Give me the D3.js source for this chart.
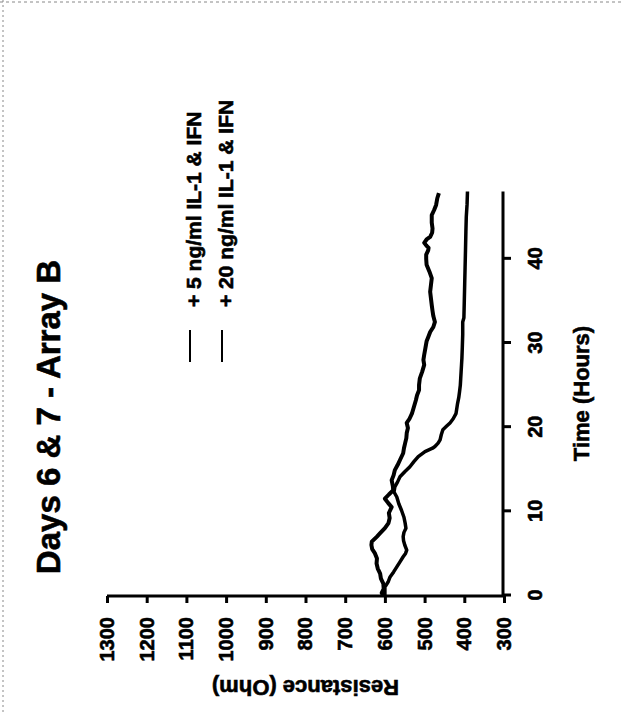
<!DOCTYPE html>
<html>
<head>
<meta charset="utf-8">
<script src="https://cdn.jsdelivr.net/npm/d3@7"></script>
<style>
  html, body { margin: 0; padding: 0; background: #fff; }
  svg { display: block; }
  text { font-family: "Liberation Sans", Arial, Helvetica, sans-serif; font-weight: bold; fill: #000; stroke: #000; stroke-width: 0.6px; }
</style>
</head>
<body>
<svg id="chart" width="621" height="713"></svg>
<script>
// ---- Data ----
const titleText = "Days 6 & 7 - Array B";
const xTitle = "Time (Hours)";
const yTitle = "Resistance (Ohm)";
const seriesNames = ["+ 5 ng/ml IL-1 & IFN", "+ 20 ng/ml IL-1 & IFN"];
const timeTicks = [0, 10, 20, 30, 40];
const resistanceTicks = [300, 400, 500, 600, 700, 800, 900, 1000, 1100, 1200, 1300];

const time5 = [0.0,0.3,0.8,1.4,2.0,2.6,3.2,3.8,4.4,5.0,5.5,6.0,6.4,7.0,7.4,8.0,8.6,9.2,9.8,10.5,11.0,11.5,12.0,12.5,13.0,13.7,14.3,14.9,15.5,16.1,16.9,17.5,18.1,18.7,19.3,19.9,20.5,21.0,21.6,22.4,23.2,23.8,24.4,25.0,25.8,26.6,27.4,28.0,28.6,29.4,30.2,30.8,31.3,31.9,32.5,33.2,33.8,34.5,35.3,36.1,36.9,37.7,38.5,39.3,40.0,40.5,41.0,41.3,41.6,41.9,42.3,42.6,43.1,43.6,44.3,45.2,45.8,46.4,47.2,47.8];
const res5  = [605,608,603,604,610,612,618,621,620,625,632,634,633,620,612,600,591,588,590,583,592,600,590,579,580,583,578,575,568,562,554,552,549,546,545,542,545,538,532,527,522,519,514,514,512,506,501,503,501,498,495,490,486,478,474,478,480,482,484,486,484,482,488,495,496,496,491,490,496,501,495,486,481,480,482,482,476,471,468,464];

const time20 = [0.0,0.3,1.0,1.6,2.2,2.8,3.4,4.0,4.6,5.0,5.4,6.0,6.5,7.0,7.5,8.0,8.6,9.3,10.1,10.9,11.7,12.3,12.9,13.5,14.1,14.7,15.3,15.9,16.5,17.1,17.5,17.7,18.1,18.5,19.1,19.7,20.1,20.5,21.0,21.6,22.2,22.8,23.5,24.2,25.0,25.8,26.6,27.4,28.2,29.5,31.0,32.5,33.0,35.0,37.0,39.0,41.0,43.2,45.0,46.5,48.0];
const res20  = [600,600,600,592,587,578,570,562,554,548,545,550,553,554,552,547,549,552,558,565,570,577,575,568,562,550,537,527,516,499,480,474,466,461,458,454,445,436,428,421,419,417,414,412,410,409,408,407,406,405,404,404,401,400,399,398,397,396,395,393,392];

// ---- Drawing ----
const svg = d3.select("#chart");

// scan page edge artefacts
svg.append("line").attr("x1", 3).attr("x2", 3).attr("y1", 0).attr("y2", 713)
  .attr("stroke", "#888").attr("stroke-width", 1).attr("stroke-dasharray", "2,3");
svg.append("line").attr("x1", 0).attr("x2", 621).attr("y1", 2).attr("y2", 2)
  .attr("stroke", "#888").attr("stroke-width", 1).attr("stroke-dasharray", "3,3");

// the chart is printed rotated by -90 degrees
const g = svg.append("g").attr("transform", `translate(0,${713}) rotate(-90)`);

const x = d3.scaleLinear().domain([0, 48]).range([117.5, 521.5]);
const y = d3.scaleLinear().domain([300, 1300]).range([504, 107]);

// Axes
const xAxis = d3.axisBottom(x).tickValues(timeTicks).tickFormat(d3.format("d"))
  .tickSize(8).tickSizeOuter(0).tickPadding(17);
const yAxis = d3.axisLeft(y).tickValues(resistanceTicks).tickFormat(d3.format("d"))
  .tickSize(7).tickSizeOuter(0).tickPadding(14);

const gx = g.append("g").attr("transform", "translate(0,503)").call(xAxis);
const gy = g.append("g").attr("transform", "translate(117,0)").call(yAxis);

[gx, gy].forEach(a => {
  a.select(".domain").attr("stroke", "#000").attr("stroke-width", 3);
  a.selectAll(".tick line").attr("stroke", "#000").attr("stroke-width", 3);
  a.selectAll(".tick text").style("font-size", "20px").style("font-weight", "bold")
    .style("font-family", '"Liberation Sans", Arial, sans-serif').attr("fill", "#000");
});
// extend the resistance axis down to meet the time axis
gy.select(".domain").attr("d", `M0,${y(1300)}V${505}`);
gx.select(".domain").attr("d", `M${x(0) - 1.5},0H${x(48)}`);

// Lines
const line = d3.line().x(d => x(d[0])).y(d => y(d[1]));
const data5 = time5.map((t, i) => [t, res5[i]]);
const data20 = time20.map((t, i) => [t, res20[i]]);

g.append("path").datum(data5).attr("d", line).attr("fill", "none")
  .attr("stroke", "#000").attr("stroke-width", 4).attr("stroke-linejoin", "round");
g.append("path").datum(data20).attr("d", line).attr("fill", "none")
  .attr("stroke", "#000").attr("stroke-width", 3.5).attr("stroke-linejoin", "round");

// Titles
g.append("text").attr("x", 296).attr("y", 60).attr("text-anchor", "middle")
  .style("font-size", "33px").text(titleText);

g.append("text").attr("x", x(24)).attr("y", 589).attr("text-anchor", "middle")
  .style("font-size", "22px").text(xTitle);

g.append("text").attr("transform", `translate(33,${y(800)}) rotate(-90)`)
  .attr("text-anchor", "middle").style("font-size", "22px").text(yTitle);

// Legend
const legendV = [190, 222];
seriesNames.forEach((name, i) => {
  g.append("line").attr("x1", 351).attr("x2", 383).attr("y1", legendV[i]).attr("y2", legendV[i])
    .attr("stroke", "#000").attr("stroke-width", 2);
  g.append("text").attr("x", 406).attr("y", legendV[i] + 4).attr("dy", "0.32em")
    .style("font-size", "21px").text(name);
});
</script>
</body>
</html>
